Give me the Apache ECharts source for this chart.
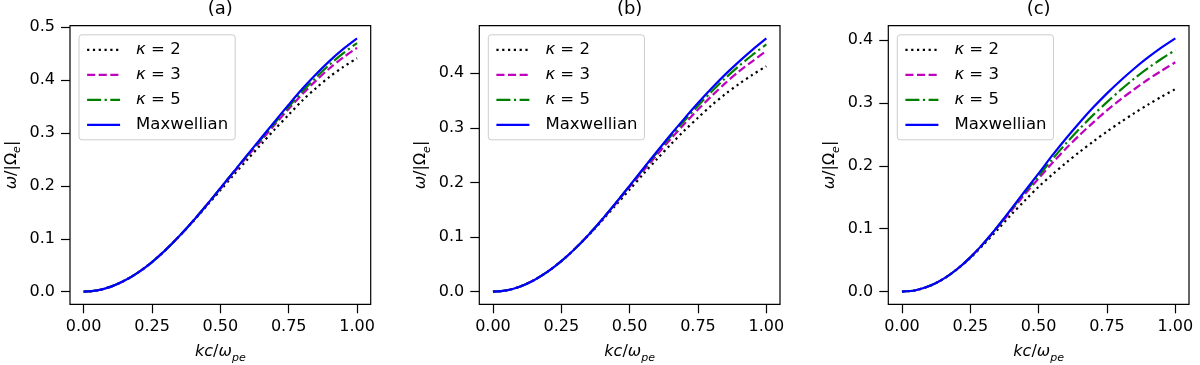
<!DOCTYPE html>
<html>
<head>
<meta charset="utf-8">
<script src="https://cdn.jsdelivr.net/npm/echarts@6/dist/echarts.min.js"></script>
<style>
  html, body { margin: 0; padding: 0; background: #fff; }
  #chart { width: 1200px; height: 365px; }
</style>
</head>
<body>
<div id="chart"></div>
<script>
// x grid of the curves: kc/omega_pe
const kc = [0, 0.05, 0.1, 0.15, 0.2, 0.25, 0.3, 0.35, 0.4, 0.45, 0.5,
            0.55, 0.6, 0.65, 0.7, 0.75, 0.8, 0.85, 0.9, 0.95, 1.0];

const xTicks = [0, 0.25, 0.5, 0.75, 1.0];
const xTickLabels = ['0.00', '0.25', '0.50', '0.75', '1.00'];
const yTicksA = [0, 0.1, 0.2, 0.3, 0.4, 0.5];
const yTickLabelsA = ['0.0', '0.1', '0.2', '0.3', '0.4', '0.5'];
const yTicksBC = [0, 0.1, 0.2, 0.3, 0.4];
const yTickLabelsBC = ['0.0', '0.1', '0.2', '0.3', '0.4'];

const seriesNames = ['κ = 2', 'κ = 3', 'κ = 5', 'Maxwellian'];
const panelTitles = ['(a)', '(b)', '(c)'];

// panel (a)
const k2A  = [0, 0.0024, 0.0095, 0.0210, 0.0365, 0.0560, 0.0790, 0.1050, 0.1325, 0.1620, 0.1915,
              0.2215, 0.2505, 0.2790, 0.3075, 0.3345, 0.3615, 0.3850, 0.4065, 0.4250, 0.4415];
const k3A  = [0, 0.0024, 0.0095, 0.0210, 0.0365, 0.0560, 0.0790, 0.1050, 0.1335, 0.1640, 0.1945,
              0.2255, 0.2565, 0.2860, 0.3165, 0.3455, 0.3735, 0.3990, 0.4225, 0.4430, 0.4610];
const k5A  = [0, 0.0024, 0.0095, 0.0210, 0.0365, 0.0560, 0.0790, 0.1050, 0.1335, 0.1640, 0.1955,
              0.2275, 0.2585, 0.2890, 0.3195, 0.3495, 0.3785, 0.4050, 0.4295, 0.4510, 0.4700];
const maxA = [0, 0.0024, 0.0095, 0.0210, 0.0365, 0.0560, 0.0790, 0.1050, 0.1335, 0.1640, 0.1955,
              0.2275, 0.2595, 0.2910, 0.3225, 0.3535, 0.3835, 0.4110, 0.4365, 0.4590, 0.4790];

// panel (b)
const k2B  = [0, 0.0024, 0.0095, 0.0210, 0.0365, 0.0558, 0.0786, 0.1034, 0.1306, 0.1588, 0.1870,
              0.2155, 0.2428, 0.2695, 0.2950, 0.3185, 0.3415, 0.3620, 0.3805, 0.3975, 0.4130];
const k3B  = [0, 0.0024, 0.0095, 0.0210, 0.0365, 0.0558, 0.0786, 0.1044, 0.1326, 0.1618, 0.1920,
              0.2215, 0.2508, 0.2795, 0.3070, 0.3335, 0.3585, 0.3820, 0.4035, 0.4225, 0.4410];
const k5B  = [0, 0.0024, 0.0095, 0.0210, 0.0365, 0.0558, 0.0786, 0.1044, 0.1326, 0.1628, 0.1940,
              0.2245, 0.2548, 0.2845, 0.3130, 0.3405, 0.3665, 0.3910, 0.4135, 0.4340, 0.4530];
const maxB = [0, 0.0024, 0.0095, 0.0210, 0.0365, 0.0558, 0.0786, 0.1044, 0.1326, 0.1628, 0.1940,
              0.2255, 0.2568, 0.2875, 0.3170, 0.3455, 0.3725, 0.3980, 0.4215, 0.4435, 0.4640];

// panel (c)
const k2C  = [0, 0.0022, 0.0088, 0.0197, 0.0350, 0.0535, 0.0755, 0.0985, 0.1225, 0.1450, 0.1667,
              0.1862, 0.2047, 0.2222, 0.2387, 0.2545, 0.2695, 0.2837, 0.2972, 0.3100, 0.3220];
const k3C  = [0, 0.0022, 0.0088, 0.0198, 0.0352, 0.0545, 0.0775, 0.1025, 0.1285, 0.1550, 0.1800,
              0.2045, 0.2275, 0.2490, 0.2690, 0.2882, 0.3057, 0.3217, 0.3372, 0.3512, 0.3646];
const k5C  = [0, 0.0022, 0.0088, 0.0198, 0.0352, 0.0545, 0.0775, 0.1035, 0.1305, 0.1580, 0.1840,
              0.2105, 0.2355, 0.2590, 0.2810, 0.3012, 0.3207, 0.3387, 0.3552, 0.3702, 0.3840];
const maxC = [0, 0.0022, 0.0088, 0.0198, 0.0352, 0.0545, 0.0775, 0.1035, 0.1315, 0.1600, 0.1880,
              0.2165, 0.2435, 0.2690, 0.2930, 0.3152, 0.3357, 0.3547, 0.3722, 0.3882, 0.4026];

const FONT = 'DejaVu Sans';
const FS = 16;

// matplotlib-like line styles: ':', '--', '-.', '-'
const lineStyles = [
  { color: '#000000', type: [2.2, 3.6] },
  { color: '#bf00bf', type: [8.1, 3.5] },
  { color: '#008000', type: [14, 3.5, 2.2, 3.5] },
  { color: '#0000ff', type: 'solid' }
];

const panels = [
  { left: 70,    yMin: -0.02395, yMax: 0.50295, yTicks: yTicksA,  yLabels: yTickLabelsA,  curves: [k2A, k3A, k5A, maxA] },
  { left: 479.3, yMin: -0.0232,  yMax: 0.4872,  yTicks: yTicksBC, yLabels: yTickLabelsBC, curves: [k2B, k3B, k5B, maxB] },
  { left: 888.3, yMin: -0.02013, yMax: 0.42273, yTicks: yTicksBC, yLabels: yTickLabelsBC, curves: [k2C, k3C, k5C, maxC] }
];

const GRID_TOP = 25.7, GRID_W = 300.7, GRID_H = 278.6;

function pickLabel(ticks, labels) {
  return v => {
    const i = ticks.findIndex(t => Math.abs(t - v) < 1e-9);
    return i >= 0 ? labels[i] : '';
  };
}

const nameRich = {
  i: { fontFamily: FONT, fontSize: FS, fontStyle: 'italic', color: '#000', lineHeight: 22 },
  n: { fontFamily: FONT, fontSize: FS, color: '#000', lineHeight: 22 },
  s: { fontFamily: FONT, fontSize: 11, fontStyle: 'italic', color: '#000', lineHeight: 12, verticalAlign: 'bottom' }
};

const grids = [], xAxes = [], yAxes = [], series = [], legends = [], titles = [];

panels.forEach((p, idx) => {
  grids.push({
    left: p.left, top: GRID_TOP, width: GRID_W, height: GRID_H,
    containLabel: false, outerBoundsMode: 'none',
    show: true, borderColor: '#000', borderWidth: 1.2, backgroundColor: 'transparent'
  });

  xAxes.push({
    type: 'value', gridIndex: idx, min: -0.05, max: 1.05,
    name: '{i|kc}{n|/}{i|ω}{s|pe}',
    nameLocation: 'middle', nameGap: 37,
    nameTextStyle: { rich: nameRich },
    axisLine: { show: false, onZero: false },
    axisTick: { show: true, customValues: xTicks, length: 9, lineStyle: { color: '#000', width: 1.2 } },
    axisLabel: {
      customValues: xTicks, formatter: pickLabel(xTicks, xTickLabels),
      margin: 15, color: '#000', fontSize: FS, fontFamily: FONT
    },
    splitLine: { show: false }
  });

  yAxes.push({
    type: 'value', gridIndex: idx, min: p.yMin, max: p.yMax,
    name: '{i|ω}{n|/|Ω}{s|e}{n||}',
    nameLocation: 'middle', nameGap: 47,
    nameTextStyle: { rich: nameRich },
    axisLine: { show: false, onZero: false },
    axisTick: { show: true, customValues: p.yTicks, length: 9, lineStyle: { color: '#000', width: 1.2 } },
    axisLabel: {
      customValues: p.yTicks, formatter: pickLabel(p.yTicks, p.yLabels),
      margin: 15, color: '#000', fontSize: FS, fontFamily: FONT
    },
    splitLine: { show: false }
  });

  p.curves.forEach((vals, k) => {
    series.push({
      type: 'line', name: seriesNames[k],
      xAxisIndex: idx, yAxisIndex: idx,
      data: kc.map((x, j) => [x, vals[j]]),
      showSymbol: false, symbol: 'none', smooth: 0.3,
      lineStyle: { color: lineStyles[k].color, type: lineStyles[k].type, width: 2.2 },
      itemStyle: { color: lineStyles[k].color },
      silent: true
    });
  });

  legends.push({
    orient: 'vertical', left: p.left + 9, top: 34.8,
    data: seriesNames, selectedMode: false,
    itemWidth: 33, itemHeight: 14, itemGap: 7,
    padding: [6, 7, 6, 7],
    backgroundColor: 'rgba(255,255,255,0.8)',
    borderColor: '#cccccc', borderWidth: 1, borderRadius: 3,
    itemStyle: { opacity: 0, borderWidth: 0 },
    lineStyle: { width: 2.2 },
    formatter: name => name.charAt(0) === 'κ'
      ? '{g| }{i|κ}{t|' + name.slice(1) + '}'
      : '{g| }{t|' + name + '}',
    textStyle: {
      color: '#000', fontFamily: FONT, fontSize: 16.5, lineHeight: 18,
      rich: {
        g: { width: 11 },
        i: { fontFamily: FONT, fontSize: 16.5, fontStyle: 'italic', color: '#000', lineHeight: 18 },
        t: { fontFamily: FONT, fontSize: 16.5, color: '#000', lineHeight: 18 }
      }
    }
  });

  titles.push({
    text: panelTitles[idx], left: p.left + GRID_W / 2, top: 0, textAlign: 'center', padding: 0,
    textStyle: { fontFamily: FONT, fontSize: 18, fontWeight: 'normal', color: '#000', lineHeight: 18 }
  });
});

const chart = echarts.init(document.getElementById('chart'));
chart.setOption({
  animation: false,
  backgroundColor: '#ffffff',
  title: titles,
  legend: legends,
  grid: grids,
  xAxis: xAxes,
  yAxis: yAxes,
  series: series
});
</script>
</body>
</html>
